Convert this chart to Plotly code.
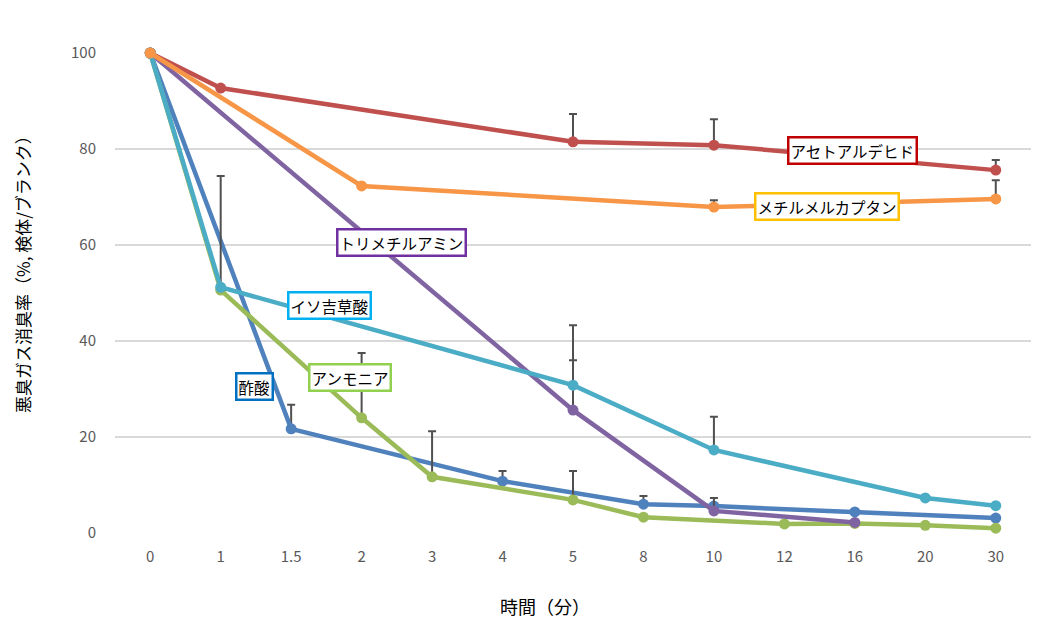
import plotly.graph_objects as go

categories = ["0", "1", "1.5", "2", "3", "4", "5", "8", "10", "12", "16", "20", "30"]

# values (None = no measurement at that time)
acetic = [100, None, 21.7, None, None, 10.8, None, 6.0, 5.6, None, 4.4, None, 3.1]
acetic_err = [0, 0, 5.0, 0, 0, 2.1, 0, 1.7, 0, 0, 0, 0, 0]

acetaldehyde = [100, 92.7, None, None, None, None, 81.5, None, 80.8, None, None, None, 75.6]
acetaldehyde_err = [0, 0, 0, 0, 0, 0, 5.8, 0, 5.4, 0, 0, 0, 2.1]

ammonia = [100, 50.6, None, 24.0, 11.7, None, 6.9, 3.3, None, 1.9, 2.0, 1.6, 1.0]
ammonia_err = [0, 23.8, 0, 13.5, 9.5, 0, 6.0, 0, 0, 0, 0, 0, 0]

trimethylamine = [100, None, None, None, None, None, 25.6, None, 4.6, None, 2.2, None, None]
trimethylamine_err = [0, 0, 0, 0, 0, 0, 10.4, 0, 2.7, 0, 0, 0, 0]

isovaleric = [100, 51.2, None, None, None, None, 30.8, None, 17.3, None, None, 7.3, 5.7]
isovaleric_err = [0, 0, 0, 0, 0, 0, 12.5, 0, 6.9, 0, 0, 0, 0]

mercaptan = [100, None, None, 72.3, None, None, None, None, 67.9, None, None, None, 69.6]
mercaptan_err = [0, 0, 0, 0, 0, 0, 0, 0, 1.4, 0, 0, 0, 3.9]

series = [
    ("酢酸", acetic, acetic_err, "#4F81BD"),
    ("アセトアルデヒド", acetaldehyde, acetaldehyde_err, "#C0504D"),
    ("アンモニア", ammonia, ammonia_err, "#9BBB59"),
    ("トリメチルアミン", trimethylamine, trimethylamine_err, "#8064A2"),
    ("イソ吉草酸", isovaleric, isovaleric_err, "#4BACC6"),
    ("メチルメルカプタン", mercaptan, mercaptan_err, "#F79646"),
]

# label boxes: (text, x category index, y value, border colour)
labels = [
    ("アセトアルデヒド", 9.97, 79.6, "#C00000"),
    ("メチルメルカプタン", 9.6, 68.1, "#FFC000"),
    ("トリメチルアミン", 3.56, 60.6, "#7030A0"),
    ("イソ吉草酸", 2.55, 47.3, "#00B0F0"),
    ("酢酸", 1.48, 30.6, "#0070C0"),
    ("アンモニア", 2.84, 32.3, "#92D050"),
]

FONT = "Noto Sans CJK JP"

fig = go.Figure()
for name, vals, err, color in series:
    fig.add_trace(go.Scatter(
        x=categories, y=vals, name=name, mode="lines+markers",
        connectgaps=True, cliponaxis=False,
        line=dict(color=color, width=4.5),
        marker=dict(color=color, size=11),
        error_y=dict(type="data", array=err, arrayminus=[0] * len(err),
                     symmetric=False, color="#505050", thickness=2, width=4),
    ))

for text, xi, yv, bc in labels:
    fig.add_annotation(x=xi, y=yv, xref="x", yref="y", text=text, showarrow=False,
                       font=dict(family=FONT, size=15.5, color="#000000"),
                       bgcolor="#FFFFFF", bordercolor=bc, borderwidth=2.5, borderpad=1)

fig.add_annotation(text="時間（分）", xref="paper", yref="paper",
                   x=(545 - 115) / 916, y=(533 - 606) / 480, xanchor="center", yanchor="middle",
                   showarrow=False, font=dict(family=FONT, size=18, color="#000000"))
fig.add_annotation(text="悪臭ガス消臭率（%, 検体/ブランク）", xref="paper", yref="paper",
                   x=(22 - 115) / 916, y=(533 - 270) / 480, xanchor="center", yanchor="middle",
                   textangle=-90,
                   showarrow=False, font=dict(family=FONT, size=17, color="#000000"))

fig.update_layout(
    width=1046, height=625,
    margin=dict(l=107, r=23, t=45, b=100),
    plot_bgcolor="#FFFFFF", paper_bgcolor="#FFFFFF",
    showlegend=False,
    font=dict(family=FONT, size=15, color="#595959"),
)
fig.update_xaxes(type="category", categoryorder="array", categoryarray=categories,
                 range=[-0.5, 12.5],
                 showgrid=False, zeroline=False, showline=False, ticks="",
                 ticklabelstandoff=13, tickfont=dict(size=15, color="#595959"))
fig.update_yaxes(range=[0, 100], tickvals=[0, 20, 40, 60, 80, 100],
                 showgrid=True, gridcolor="#D9D9D9", gridwidth=1.5,
                 zeroline=False, showline=False, ticks="",
                 ticklabelstandoff=18, tickfont=dict(size=15, color="#595959"))

fig.write_html("out.html")
